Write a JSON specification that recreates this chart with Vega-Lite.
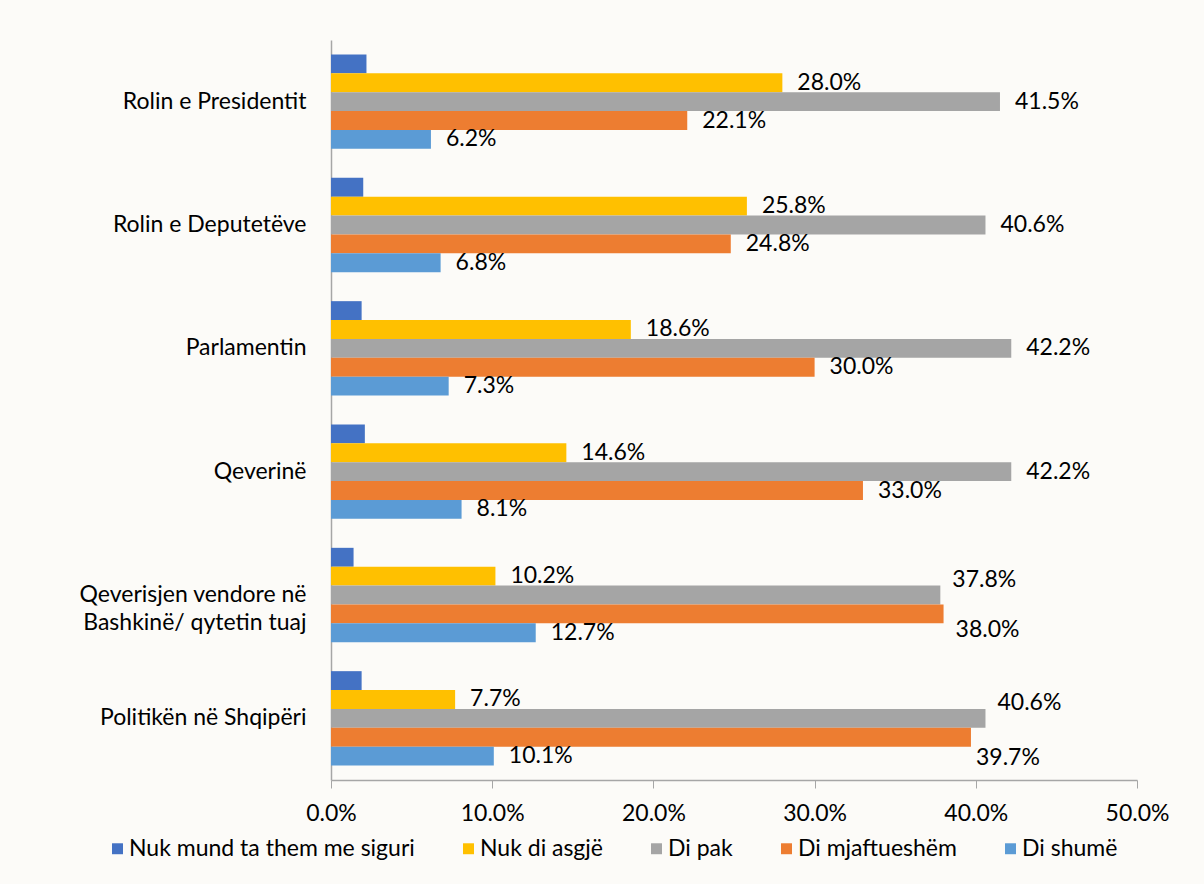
{
  "$schema": "https://vega.github.io/schema/vega-lite/v6.json",
  "width": 806,
  "height": 740,
  "autosize": {"type": "none"},
  "padding": {"left": 331, "top": 40, "right": 67, "bottom": 104},
  "background": "#FCFBF8",
  "config": {
    "view": {"stroke": null},
    "font": "Lato",
    "text": {"font": "Lato"}
  },
  "data": {
    "values": [
      {"category": "Rolin e Presidentit", "series": "Nuk mund ta them me siguri", "value": 0.022},
      {"category": "Rolin e Presidentit", "series": "Nuk di asgjë", "value": 0.280},
      {"category": "Rolin e Presidentit", "series": "Di pak", "value": 0.415},
      {"category": "Rolin e Presidentit", "series": "Di mjaftueshëm", "value": 0.221},
      {"category": "Rolin e Presidentit", "series": "Di shumë", "value": 0.062},
      {"category": "Rolin e Deputetëve", "series": "Nuk mund ta them me siguri", "value": 0.020},
      {"category": "Rolin e Deputetëve", "series": "Nuk di asgjë", "value": 0.258},
      {"category": "Rolin e Deputetëve", "series": "Di pak", "value": 0.406},
      {"category": "Rolin e Deputetëve", "series": "Di mjaftueshëm", "value": 0.248},
      {"category": "Rolin e Deputetëve", "series": "Di shumë", "value": 0.068},
      {"category": "Parlamentin", "series": "Nuk mund ta them me siguri", "value": 0.019},
      {"category": "Parlamentin", "series": "Nuk di asgjë", "value": 0.186},
      {"category": "Parlamentin", "series": "Di pak", "value": 0.422},
      {"category": "Parlamentin", "series": "Di mjaftueshëm", "value": 0.300},
      {"category": "Parlamentin", "series": "Di shumë", "value": 0.073},
      {"category": "Qeverinë", "series": "Nuk mund ta them me siguri", "value": 0.021},
      {"category": "Qeverinë", "series": "Nuk di asgjë", "value": 0.146},
      {"category": "Qeverinë", "series": "Di pak", "value": 0.422},
      {"category": "Qeverinë", "series": "Di mjaftueshëm", "value": 0.330},
      {"category": "Qeverinë", "series": "Di shumë", "value": 0.081},
      {"category": "Qeverisjen vendore në Bashkinë/ qytetin tuaj", "series": "Nuk mund ta them me siguri", "value": 0.014},
      {"category": "Qeverisjen vendore në Bashkinë/ qytetin tuaj", "series": "Nuk di asgjë", "value": 0.102},
      {"category": "Qeverisjen vendore në Bashkinë/ qytetin tuaj", "series": "Di pak", "value": 0.378},
      {"category": "Qeverisjen vendore në Bashkinë/ qytetin tuaj", "series": "Di mjaftueshëm", "value": 0.380},
      {"category": "Qeverisjen vendore në Bashkinë/ qytetin tuaj", "series": "Di shumë", "value": 0.127},
      {"category": "Politikën në Shqipëri", "series": "Nuk mund ta them me siguri", "value": 0.019},
      {"category": "Politikën në Shqipëri", "series": "Nuk di asgjë", "value": 0.077},
      {"category": "Politikën në Shqipëri", "series": "Di pak", "value": 0.406},
      {"category": "Politikën në Shqipëri", "series": "Di mjaftueshëm", "value": 0.397},
      {"category": "Politikën në Shqipëri", "series": "Di shumë", "value": 0.101}
    ]
  },
  "encoding": {
    "y": {
      "field": "category",
      "type": "nominal",
      "sort": ["Rolin e Presidentit", "Rolin e Deputetëve", "Parlamentin", "Qeverinë", "Qeverisjen vendore në Bashkinë/ qytetin tuaj", "Politikën në Shqipëri"],
      "scale": {"paddingInner": 0.235, "paddingOuter": 0.1175},
      "axis": {
        "title": null,
        "ticks": false,
        "domainColor": "#A6A6A6",
        "domainWidth": 1.5,
        "labelFontSize": 23,
        "labelColor": "#000000",
        "labelPadding": 25,
        "labelLimit": 0,
        "labelLineHeight": 28,
        "labelExpr": "datum.value == 'Qeverisjen vendore në Bashkinë/ qytetin tuaj' ? ['Qeverisjen vendore në', 'Bashkinë/ qytetin tuaj'] : datum.value"
      }
    },
    "yOffset": {
      "field": "series",
      "sort": ["Nuk mund ta them me siguri", "Nuk di asgjë", "Di pak", "Di mjaftueshëm", "Di shumë"],
      "scale": {"paddingInner": 0, "paddingOuter": 0}
    },
    "x": {
      "field": "value",
      "type": "quantitative",
      "scale": {"domain": [0, 0.5]},
      "axis": {
        "title": null,
        "format": ".1%",
        "values": [0, 0.1, 0.2, 0.3, 0.4, 0.5],
        "grid": false,
        "tickSize": 8,
        "tickColor": "#A6A6A6",
        "domainColor": "#A6A6A6",
        "domainWidth": 1.5,
        "labelFlush": false,
        "labelFontSize": 23,
        "labelColor": "#000000",
        "labelPadding": 14
      }
    }
  },
  "layer": [
    {
      "mark": {"type": "bar"},
      "encoding": {
        "color": {
          "field": "series",
          "type": "nominal",
          "sort": ["Nuk mund ta them me siguri", "Nuk di asgjë", "Di pak", "Di mjaftueshëm", "Di shumë"],
          "scale": {
            "domain": ["Nuk mund ta them me siguri", "Nuk di asgjë", "Di pak", "Di mjaftueshëm", "Di shumë"],
            "range": ["#4472C4", "#FFC000", "#A5A5A5", "#ED7D31", "#5B9BD5"]
          },
          "legend": {
            "orient": "none",
            "legendX": -225,
            "legendY": 797,
            "direction": "horizontal",
            "title": null,
            "symbolType": "square",
            "symbolSize": 120,
            "symbolStrokeWidth": 0,
            "labelFontSize": 23,
            "labelColor": "#000000",
            "labelLimit": 0,
            "labelOffset": 0,
            "columnPadding": 42
          }
        }
      }
    },
    {
      "transform": [{"filter": "datum.series != 'Nuk mund ta them me siguri' && !((datum.category == 'Qeverisjen vendore në Bashkinë/ qytetin tuaj' || datum.category == 'Politikën në Shqipëri') && (datum.series == 'Di pak' || datum.series == 'Di mjaftueshëm'))"}],
      "mark": {"type": "text", "align": "left", "baseline": "middle", "dx": 15, "fontSize": 23, "color": "#000000"},
      "encoding": {
        "text": {"field": "value", "type": "quantitative", "format": ".1%"}
      }
    },
    {
      "transform": [{"filter": "(datum.category == 'Qeverisjen vendore në Bashkinë/ qytetin tuaj' || datum.category == 'Politikën në Shqipëri') && datum.series == 'Di pak'"}],
      "mark": {"type": "text", "align": "left", "baseline": "middle", "dx": 12, "dy": -15, "fontSize": 23, "color": "#000000"},
      "encoding": {
        "text": {"field": "value", "type": "quantitative", "format": ".1%"}
      }
    },
    {
      "transform": [{"filter": "datum.category == 'Qeverisjen vendore në Bashkinë/ qytetin tuaj' && datum.series == 'Di mjaftueshëm'"}],
      "mark": {"type": "text", "align": "left", "baseline": "middle", "dx": 12, "dy": 16, "fontSize": 23, "color": "#000000"},
      "encoding": {
        "text": {"field": "value", "type": "quantitative", "format": ".1%"}
      }
    },
    {
      "transform": [{"filter": "datum.category == 'Politikën në Shqipëri' && datum.series == 'Di mjaftueshëm'"}],
      "mark": {"type": "text", "align": "left", "baseline": "middle", "dx": 5, "dy": 21, "fontSize": 23, "color": "#000000"},
      "encoding": {
        "text": {"field": "value", "type": "quantitative", "format": ".1%"}
      }
    }
  ]
}
